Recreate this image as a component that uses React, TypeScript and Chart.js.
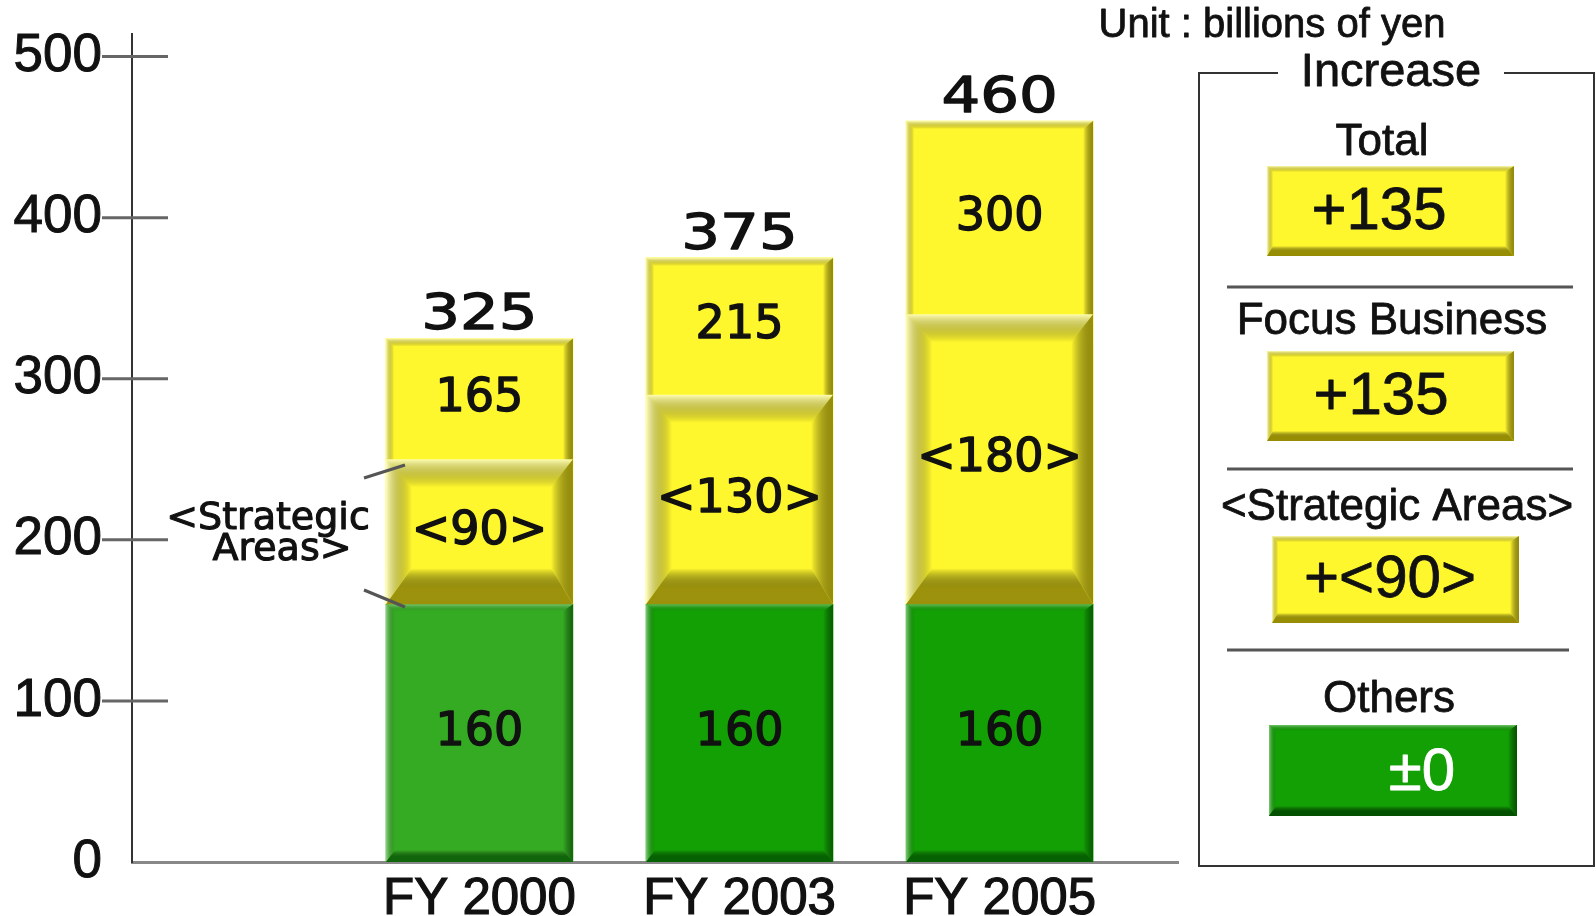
import { useEffect, useRef } from 'react';
import { Chart, registerables } from 'chart.js';

Chart.register(...registerables);

// ---------- data ----------
const categories = ['FY 2000', 'FY 2003', 'FY 2005'];
const othersValues = [160, 160, 160];
const strategicValues = [90, 130, 180];
const focusValues = [165, 215, 300];
const totalValues = [325, 375, 460];
const yTickValues = [0, 100, 200, 300, 400, 500];
const increaseTitles = ['Total', 'Focus Business', '<Strategic Areas>', 'Others'];
const increaseValues = ['+135', '+135', '+<90>', '±0'];
const unitText = 'Unit : billions of yen';
const panelTitle = 'Increase';
const annotationLines = ['<Strategic', 'Areas>'];

const focusRestValues = focusValues.map((v, i) => v - strategicValues[i]);

// ---------- styles ----------
const YELLOW = '#fff72e';
const othersColors = ['#35ab23', '#13a005', '#13a005'];
const TXT = '#111';
const BAR_W = 187;

type Sides = { t: number; l: number; r: number; b: number };

function bevel(
  ctx: CanvasRenderingContext2D,
  l: number, t: number, r: number, b: number,
  s: Sides, light: string, lightTop: string, dark: string, darkBottom: string
) {
  const clear = 'rgba(0,0,0,0)';
  const poly = (pts: number[][], g: CanvasGradient) => {
    ctx.beginPath();
    ctx.moveTo(pts[0][0], pts[0][1]);
    for (let i = 1; i < pts.length; i++) ctx.lineTo(pts[i][0], pts[i][1]);
    ctx.closePath();
    ctx.fillStyle = g;
    ctx.fill();
  };
  ctx.save();
  if (s.t) {
    const g = ctx.createLinearGradient(0, t, 0, t + s.t);
    g.addColorStop(0, lightTop);
    g.addColorStop(1, clear);
    poly([[l, t], [r, t], [r - s.r, t + s.t], [l + s.l, t + s.t]], g);
  }
  if (s.l) {
    const g = ctx.createLinearGradient(l, 0, l + s.l, 0);
    g.addColorStop(0, light);
    g.addColorStop(1, clear);
    poly([[l, t], [l + s.l, t + s.t], [l + s.l, b - s.b], [l, b]], g);
  }
  if (s.r) {
    const g = ctx.createLinearGradient(r, 0, r - s.r, 0);
    g.addColorStop(0, dark);
    g.addColorStop(1, clear);
    poly([[r, t], [r, b], [r - s.r, b - s.b], [r - s.r, t + s.t]], g);
  }
  if (s.b) {
    const g = ctx.createLinearGradient(0, b, 0, b - s.b);
    g.addColorStop(0, darkBottom);
    g.addColorStop(0.45, darkBottom);
    g.addColorStop(1, clear);
    poly([[l, b], [r, b], [r - s.r, b - s.b], [l + s.l, b - s.b]], g);
  }
  ctx.restore();
}

function text(
  ctx: CanvasRenderingContext2D, str: string, x: number, y: number,
  font: string, color = TXT, sx = 1, stroke = 0
) {
  ctx.save();
  ctx.font = font;
  ctx.fillStyle = color;
  ctx.textAlign = 'center';
  ctx.textBaseline = 'middle';
  ctx.translate(x, y);
  ctx.scale(sx, 1);
  ctx.fillText(str, 0, 0);
  if (stroke) {
    ctx.strokeStyle = color;
    ctx.lineWidth = stroke;
    ctx.lineJoin = 'round';
    ctx.strokeText(str, 0, 0);
  }
  ctx.restore();
}

const LIB = '"Liberation Sans", Arial, sans-serif';
const DJV = '"DejaVu Sans", sans-serif';
const LEG_FONT = `44px ${LIB}`;
const VAL_FONT = `60px ${LIB}`;

const panelRows = [
  { titleX: 1382, titleY: 143, box: [1267, 166, 1514, 256], vx: 1379, vy: 212 },
  { titleX: 1392, titleY: 322, box: [1267, 351, 1514, 441], vx: 1381, vy: 397 },
  { titleX: 1397, titleY: 508, box: [1272, 536, 1519, 623], vx: 1390, vy: 580 },
  { titleX: 1389, titleY: 700, box: [1269, 725, 1517, 816], vx: 1422, vy: 773 },
];
const dividers = [
  [1227, 1573, 287],
  [1227, 1573, 469],
  [1227, 1569, 650],
];

const zeroPad = (s: any) => {
  s.paddingTop = 0;
  s.paddingBottom = 0;
  s.paddingLeft = 0;
  s.paddingRight = 0;
};

const decorPlugin = {
  id: 'decor',
  afterDatasetsDraw(chart: any) {
    const ctx: CanvasRenderingContext2D = chart.ctx;
    const metas = [0, 1, 2].map((i) => chart.getDatasetMeta(i));
    for (let i = 0; i < categories.length; i++) {
      const els = metas.map((m: any) => m.data[i].getProps(['x', 'y', 'base', 'width'], true));
      {
        const e = els[0];
        const l = e.x - e.width / 2, r = e.x + e.width / 2;
        bevel(ctx, l, e.y, r, e.base, { t: 7, l: 9, r: 10, b: 12 },
          'rgba(255,255,255,0.45)', 'rgba(255,255,255,0.35)',
          'rgba(0,60,0,0.65)', 'rgba(0,70,0,0.7)');
      }
      {
        const e = els[1];
        const l = e.x - e.width / 2, r = e.x + e.width / 2;
        bevel(ctx, l, e.y, r, e.base, { t: 28, l: 26, r: 22, b: 36 },
          'rgba(255,255,215,0.85)', 'rgba(255,255,200,0.85)',
          'rgba(140,130,5,0.9)', 'rgba(150,140,10,0.95)');
      }
      {
        const e = els[2];
        const l = e.x - e.width / 2, r = e.x + e.width / 2;
        bevel(ctx, l, e.y, r, e.base, { t: 8, l: 8, r: 10, b: 0 },
          'rgba(255,255,230,0.7)', 'rgba(255,255,230,0.7)',
          'rgba(130,120,0,0.85)', 'rgba(0,0,0,0)');
      }
      const inFont = `46px ${DJV}`;
      const mid = (e: any) => (e.y + e.base) / 2;
      text(ctx, String(othersValues[i]), els[0].x, mid(els[0]), inFont, TXT, 1, 1.4);
      text(ctx, `<${strategicValues[i]}>`, els[1].x, mid(els[1]), inFont, TXT, 1, 1.4);
      text(ctx, String(focusValues[i]), els[2].x, mid(els[2]), inFont, TXT, 1, 1.4);
      text(ctx, String(totalValues[i]), els[2].x, els[2].y - 22, `50px ${DJV}`, TXT, 1.22, 1.3);
    }
  },
  afterDraw(chart: any) {
    const ctx: CanvasRenderingContext2D = chart.ctx;
    const yScale = chart.scales.y;
    const axisX = chart.chartArea.left;
    ctx.save();
    ctx.strokeStyle = '#666';
    ctx.lineWidth = 3;
    yTickValues.forEach((v) => {
      if (v === 0) return;
      const py = yScale.getPixelForValue(v);
      ctx.beginPath();
      ctx.moveTo(axisX - 30, py);
      ctx.lineTo(axisX + 36, py);
      ctx.stroke();
    });
    ctx.restore();

    // strategic areas annotation
    const annFont = `38px ${DJV}`;
    text(ctx, annotationLines[0], 268, 519, annFont, TXT, 1, 1.1);
    text(ctx, annotationLines[1], 282, 550, annFont, TXT, 1, 1.1);
    ctx.save();
    ctx.strokeStyle = '#555';
    ctx.lineWidth = 3;
    ctx.beginPath();
    ctx.moveTo(364, 478); ctx.lineTo(405, 465);
    ctx.moveTo(364, 590); ctx.lineTo(405, 607);
    ctx.stroke();
    ctx.restore();

    // unit
    text(ctx, unitText, 1272, 26, `40px ${LIB}`, TXT, 1, 0.8);

    // panel frame
    ctx.save();
    ctx.strokeStyle = '#333';
    ctx.lineWidth = 2;
    ctx.beginPath();
    ctx.moveTo(1278, 73);
    ctx.lineTo(1199, 73);
    ctx.lineTo(1199, 866);
    ctx.lineTo(1594, 866);
    ctx.lineTo(1594, 73);
    ctx.lineTo(1504, 73);
    ctx.stroke();
    ctx.strokeStyle = '#555';
    ctx.lineWidth = 3;
    dividers.forEach(([a, b, y]) => {
      ctx.beginPath();
      ctx.moveTo(a, y);
      ctx.lineTo(b, y);
      ctx.stroke();
    });
    ctx.restore();
    text(ctx, panelTitle, 1391, 73, `47px ${LIB}`, TXT, 1, 0.8);

    panelRows.forEach((row, i) => {
      const [l, t, r, b] = row.box;
      const green = i === 3;
      ctx.save();
      ctx.fillStyle = green ? '#13a005' : YELLOW;
      ctx.fillRect(l, t, r - l, b - t);
      ctx.restore();
      if (green) {
        bevel(ctx, l, t, r, b, { t: 6, l: 7, r: 9, b: 10 },
          'rgba(255,255,255,0.45)', 'rgba(255,255,255,0.4)',
          'rgba(0,60,0,0.75)', 'rgba(0,60,0,0.8)');
      } else {
        bevel(ctx, l, t, r, b, { t: 6, l: 6, r: 9, b: 10 },
          'rgba(255,255,230,0.7)', 'rgba(255,255,230,0.7)',
          'rgba(130,120,0,0.85)', 'rgba(140,130,0,0.9)');
      }
      text(ctx, increaseTitles[i], row.titleX, row.titleY, LEG_FONT, TXT, 1, 0.8);
      text(ctx, increaseValues[i], row.vx, row.vy, VAL_FONT, green ? '#fff' : TXT, 1, 0.8);
    });
  },
};

export default function App() {
  const ref = useRef<HTMLCanvasElement | null>(null);
  useEffect(() => {
    if (!ref.current) return;
    const mk = (label: string, values: number[], color: any) => ({
      label,
      data: values.map((v, i) => ({ x: i, y: v })),
      backgroundColor: color,
      borderWidth: 0,
      barThickness: BAR_W,
    });
    const chart = new Chart(ref.current, {
      type: 'bar',
      data: {
        datasets: [
          mk('Others', othersValues, othersColors),
          mk('Strategic Areas', strategicValues, YELLOW),
          mk('Focus Business', focusRestValues, YELLOW),
        ],
      } as any,
      options: {
        animation: false,
        responsive: true,
        maintainAspectRatio: false,
        layout: { padding: { left: 0, top: 34, right: 418, bottom: 0 } },
        plugins: { legend: { display: false }, tooltip: { enabled: false } },
        scales: {
          x: {
            type: 'linear',
            stacked: true,
            offset: false,
            min: -1.336,
            max: 2.686,
            afterBuildTicks: (s: any) => {
              s.ticks = categories.map((_, i) => ({ value: i }));
            },
            afterFit: (s: any) => {
              s.height = 54;
              zeroPad(s);
            },
            ticks: {
              callback: (v: any) => categories[v] ?? '',
              font: { family: LIB, size: 51 },
              color: TXT,
              textStrokeColor: TXT,
              textStrokeWidth: 1.2,
              padding: 7,
              maxRotation: 0,
              autoSkip: false,
            },
            grid: { display: false, drawTicks: false, offset: false },
            border: { display: true, color: '#888', width: 3 },
          },
          y: {
            stacked: true,
            min: 0,
            max: 514,
            afterBuildTicks: (s: any) => {
              s.ticks = yTickValues.map((v) => ({ value: v }));
            },
            afterFit: (s: any) => {
              s.width = 132;
              zeroPad(s);
            },
            ticks: {
              font: { family: LIB, size: 53 },
              color: TXT,
              textStrokeColor: TXT,
              textStrokeWidth: 1,
              padding: 30,
            },
            grid: { display: false, drawTicks: false },
            border: { display: true, color: '#333', width: 2 },
          },
        },
      } as any,
      plugins: [decorPlugin],
    });
    return () => chart.destroy();
  }, []);
  return (
    <div style={{ position: 'absolute', left: 0, top: 0, width: 1596, height: 916, background: '#fff' }}>
      <canvas ref={ref} />
    </div>
  );
}
